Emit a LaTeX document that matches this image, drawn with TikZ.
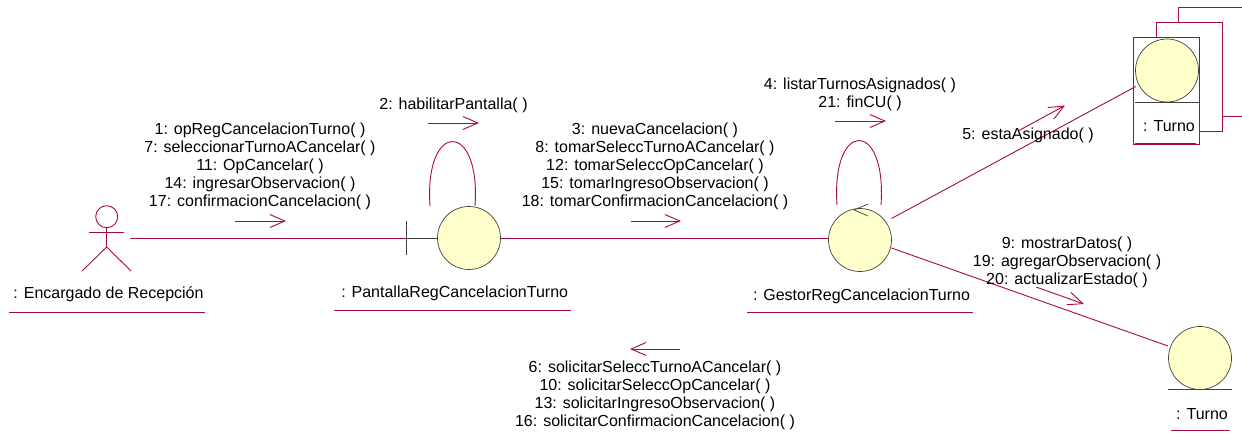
\documentclass[tikz,border=0pt]{standalone}
\usepackage{fontspec}
\setmainfont{Liberation Sans}
\usetikzlibrary{arrows.meta}
\definecolor{rosered}{RGB}{165,10,70}
\definecolor{roseyellow}{RGB}{255,255,204}
\begin{document}
\begin{tikzpicture}[x=1pt,y=-1pt,
    wire/.style={draw=rosered,line width=0.9pt},
    msgarrow/.style={draw=rosered,line width=0.9pt,-{Straight Barb[length=15pt,width=13pt,line width=0.9pt]}},
    ball/.style={circle,draw=black!75,fill=roseyellow,line width=0.7pt,minimum size=63pt,inner sep=0pt},
    msg/.style={align=center,inner sep=0pt,font=\fontsize{16}{18}\selectfont},
    bar/.style={draw=black!75,line width=0.8pt}]
\useasboundingbox (0,0) rectangle (1242,432);

% actor
\node[circle,draw=rosered,line width=0.9pt,minimum size=22pt,inner sep=0pt] (head) at (106.7,216.7) {};
\coordinate (hip) at (106.7,247);
\coordinate (armL) at (89,232.7);
\coordinate (armR) at (124,232.7);
\coordinate (footL) at (82,271);
\coordinate (footR) at (131,271);
\draw[wire] (head.south) -- (hip);
\draw[wire] (armL) -- (armR);
\draw[wire] (footL) -- (hip) -- (footR);

% objects
\node[ball] (pantalla) at (469,238) {};
\node[ball] (gestor) at (860,240) {};
\node[ball] (turnoA) at (1167,70.5) {};
\node[ball] (turnoB) at (1200,358) {};

% names
\node[msg] (lblActor) at (108.5,294) {: Encargado de Recepción};
\node[msg] (lblPantalla) at (454.7,293.5) {: PantallaRegCancelacionTurno};
\node[msg] (lblGestor) at (861.5,296) {: GestorRegCancelacionTurno};
\node[msg] (lblTurnoA) at (1169,126) {: Turno};
\node[msg] (lblTurnoB) at (1202,414) {: Turno};
\draw[wire] (9,312) -- (205,312);
\draw[wire] (334,310) -- (571,310);
\draw[wire] (747,312) -- (973,312);
\draw[wire] (1171,430.5) -- (1230,430.5);

% stack of Turno
\draw[wire] (1133,37) rectangle (1199,144);
\draw[wire] (1135,143) -- (1196,143);
\draw[wire] (1156,37) -- (1156,22) -- (1222,22) -- (1222,131) -- (1199,131);
\draw[wire] (1178,22) -- (1178,7) -- (1242,7);
\draw[wire] (1222,116) -- (1242,116);

% bars
\coordinate (tickT) at (406,221);
\coordinate (tickB) at (406,255);
\coordinate (tickM) at (406,238);
\draw[bar] (tickT) -- (tickB);
\draw[bar] (tickM) -- (pantalla.west);
\draw[bar] (1135,102) -- (1199,102);
\draw[bar] (1168,389) -- (1232,389);

% links
\coordinate (actorEnd) at (130,238);
\draw[wire] (actorEnd) -- (tickM);
\draw[wire] (pantalla.east) -- (gestor.west |- pantalla.east);
\coordinate (gestorUp) at (891.5,218.5);
\coordinate (turnoAIn) at (1135.7,86.5);
\coordinate (gestorDown) at (891.5,248);
\coordinate (turnoBIn) at (1168,346);
\draw[wire] (gestorUp) -- (turnoAIn);
\draw[wire] (gestorDown) -- (turnoBIn);
\draw[wire] (430,206) .. controls (424,120) and (481,120) .. (475,206);
\draw[wire] (837,205) .. controls (831,119) and (887,119) .. (881,205);
\draw[draw=black!75,line width=0.7pt] (868,204) -- (854,210) -- (868,216);

% message arrows
\foreach \name/\xa/\ya/\xb/\yb in {a/235/221/286/221,b/428/123/479/123,c/631/221/681/221,
    d/835/121/886/121,e/1018/131/1065/105.5,f/1036/287/1084/304,g/680/349/630/349}{
    \coordinate (from\name) at (\xa,\ya);
    \coordinate (to\name) at (\xb,\yb);
    \draw[msgarrow] (from\name) -- (to\name);
}

% messages
\node[msg] (msgOne) at (260,166) {1: opRegCancelacionTurno( )\\7: seleccionarTurnoACancelar( )\\11: OpCancelar( )\\14: ingresarObservacion( )\\17: confirmacionCancelacion( )};
\node[msg] (msgTwo) at (453.5,105.5) {2: habilitarPantalla( )};
\node[msg] (msgThree) at (655,166) {3: nuevaCancelacion( )\\8: tomarSeleccTurnoACancelar( )\\12: tomarSeleccOpCancelar( )\\15: tomarIngresoObservacion( )\\18: tomarConfirmacionCancelacion( )};
\node[msg] (msgFour) at (860,94.5) {4: listarTurnosAsignados( )\\21: finCU( )};
\node[msg] (msgFive) at (1028,135) {5: estaAsignado( )};
\node[msg] (msgNine) at (1067,262) {9: mostrarDatos( )\\19: agregarObservacion( )\\20: actualizarEstado( )};
\node[msg] (msgSix) at (655,395) {6: solicitarSeleccTurnoACancelar( )\\10: solicitarSeleccOpCancelar( )\\13: solicitarIngresoObservacion( )\\16: solicitarConfirmacionCancelacion( )};
\end{tikzpicture}
\end{document}
